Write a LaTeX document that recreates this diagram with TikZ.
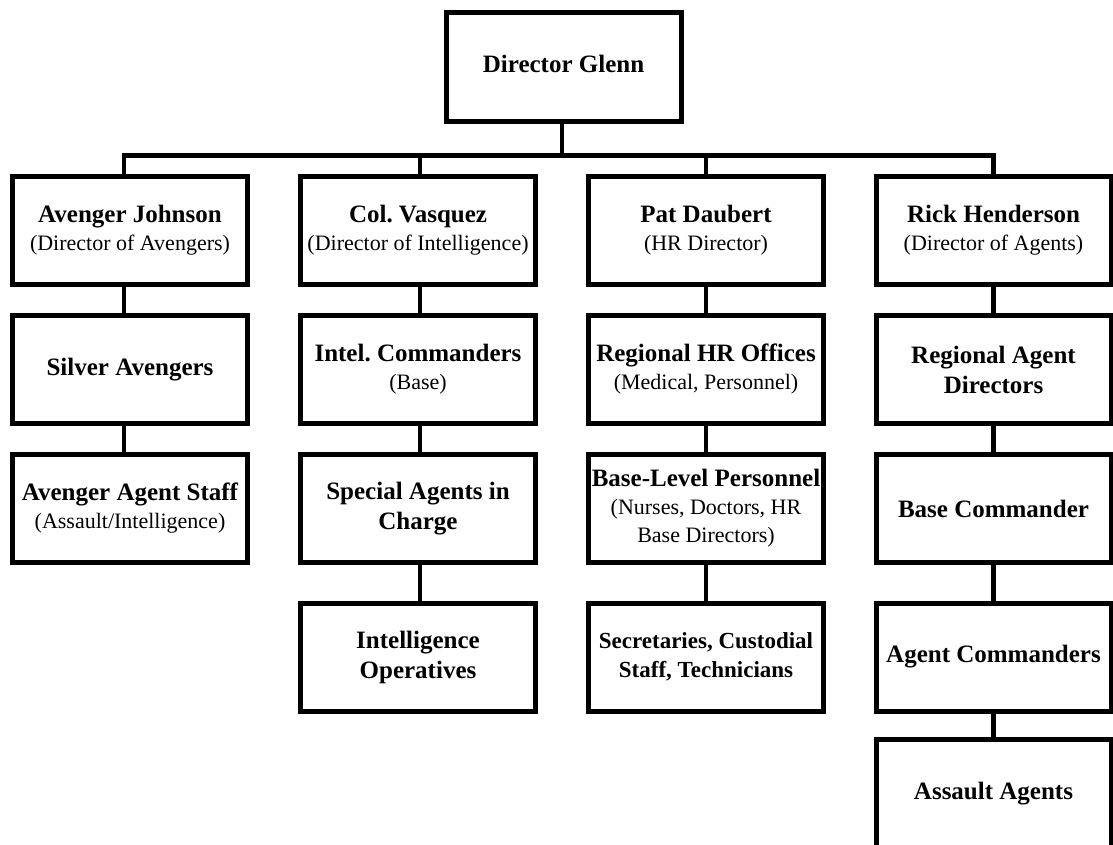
\documentclass[tikz,border=0pt]{standalone}
\usepackage{fontspec}
\setmainfont{Liberation Serif}
\frenchspacing
\newcommand\boxname[1]{{\bfseries\fontsize{25}{30}\selectfont #1}}
\newcommand\smallname[1]{{\bfseries\fontsize{23}{28}\selectfont #1}}
\begin{document}
\frenchspacing
\begin{tikzpicture}[x=1pt,y=-1pt,
  box/.style={draw=black, line width=5pt, fill=white, minimum width=235pt,
    minimum height=108pt, inner sep=0pt, align=center,
    font=\fontsize{22}{28}\selectfont},
  conn/.style={draw=black, line width=4.5pt}]
\clip (0,0) rectangle (1113,844);
\fill[white] (0,0) rectangle (1113,844);

% top
\node[box, minimum height=109pt, text height=11pt, text depth=0pt] (dg) at (563.5,67) {\boxname{Director Glenn}};
\coordinate (bar) at (562,155.5);

% column 1
\node[box] (aj) at (130,230) {\boxname{Avenger Johnson}\\(Director of Avengers)};
\node[box] (sa) at (130,369.5) {\boxname{Silver Avengers}};
\node[box] (aas) at (130,508.5) {\boxname{Avenger Agent Staff}\\(Assault/Intelligence)};

% column 2
\node[box] (cv) at (418,230) {\boxname{Col. Vasquez}\\(Director of Intelligence)};
\node[box] (ic) at (418,369.5) {\boxname{Intel. Commanders}\\(Base)};
\node[box] (sac) at (418,508.5) {\boxname{Special Agents in}\\[2pt]\boxname{Charge}};
\node[box] (io) at (418,657) {\boxname{Intelligence}\\[2pt]\boxname{Operatives}};

% column 3
\node[box] (pd) at (706,230) {\boxname{Pat Daubert}\\(HR Director)};
\node[box] (rhr) at (706,369.5) {\boxname{Regional HR Offices}\\(Medical, Personnel)};
\node[box] (blp) at (706,508.5) {\boxname{Base-Level Personnel}\\(Nurses, Doctors, HR\\Base Directors)};
\node[box] (sec) at (706,657) {\smallname{Secretaries, Custodial}\\[1pt]\smallname{Staff, Technicians}};

% column 4
\node[box] (rh) at (993.5,230) {\boxname{Rick Henderson}\\(Director of Agents)};
\node[box] (rad) at (993.5,369.5) {\boxname{Regional Agent}\\[2pt]\boxname{Directors}};
\node[box] (bc) at (993.5,508.5) {\boxname{Base Commander}};
\node[box] (ac) at (993.5,657) {\boxname{Agent Commanders}};
\node[box] (aa) at (993.5,793.5) {\boxname{Assault Agents}};

% connectors from top
\draw[conn] (dg.south -| bar) -- (bar);
\draw[conn] ([xshift=-6pt]aj.north) |- (bar);
\draw[conn] (rh.north) |- (bar);
\draw[conn] ([xshift=2pt]cv.north) -- ([xshift=2pt]cv.north |- bar);
\draw[conn] (pd.north) -- (pd.north |- bar);

% column connectors
\draw[conn] ([xshift=-6pt]aj.south) -- ([xshift=-6pt]sa.north);
\draw[conn] ([xshift=-6pt]sa.south) -- ([xshift=-6pt]aas.north);
\draw[conn] ([xshift=2pt]cv.south) -- ([xshift=2pt]ic.north);
\draw[conn] ([xshift=2pt]ic.south) -- ([xshift=2pt]sac.north);
\draw[conn] ([xshift=2pt]sac.south) -- ([xshift=2pt]io.north);
\draw[conn] (pd.south) -- (rhr.north);
\draw[conn] (rhr.south) -- (blp.north);
\draw[conn] (blp.south) -- (sec.north);
\draw[conn] (rh.south) -- (rad.north);
\draw[conn] (rad.south) -- (bc.north);
\draw[conn] (bc.south) -- (ac.north);
\draw[conn] (ac.south) -- (aa.north);
\end{tikzpicture}
\end{document}
